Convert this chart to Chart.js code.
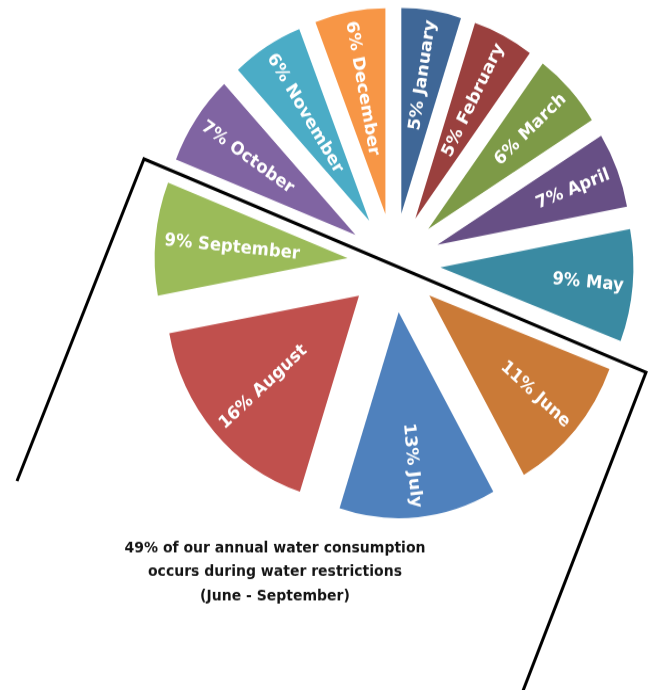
<!DOCTYPE html>
<html>
<head>
<meta charset="utf-8">
<script src="https://cdn.jsdelivr.net/npm/chart.js@4/dist/chart.umd.min.js"></script>
<style>
  html, body { margin: 0; padding: 0; background: #ffffff; overflow: hidden; }
  #wrap { position: absolute; left: 0; top: 0; width: 656px; height: 647px;
          transform: scaleY(1.06646); transform-origin: 0 0; }
</style>
</head>
<body>
<div id="wrap"><canvas id="chart"></canvas></div>
<script>
// ---- data ----
const months = ['January', 'February', 'March', 'April', 'May', 'June',
                'July', 'August', 'September', 'October', 'November', 'December'];
// slice sizes as drawn in the picture (share of annual consumption, %)
const sliceShares = [5.0, 5.1, 6.0, 5.9, 8.8, 11.0, 13.1, 17.1, 8.9, 7.1, 6.0, 5.9];
// percentages as printed on the slice labels
const labelPercents = [5, 5, 6, 7, 9, 11, 13, 16, 9, 7, 6, 6];
const noteLines = ['49% of our annual water consumption',
                   'occurs during water restrictions',
                   '(June - September)'];

// ---- styles ----
const sliceColors = ['#3F6797', '#9A403E', '#7D9A47', '#674F85', '#3A8AA2', '#CA7A37',
                     '#4F81BD', '#C0504D', '#9BBB59', '#8064A2', '#4BACC6', '#F79646'];
const PIE_RADIUS = 193;
const EXPLODE = 46.6;
const LABEL_MARGIN = 9;
const frameLine = [[17, 451], [144, 149], [646, 349], [520, 655]];

const explodePlugin = {
  id: 'explode',
  afterDatasetsUpdate(chart) {
    chart.getDatasetMeta(0).data.forEach(el => {
      const mid = (el.startAngle + el.endAngle) / 2;
      el.x += EXPLODE * Math.cos(mid);
      el.y += EXPLODE * Math.sin(mid);
    });
  }
};

const labelPlugin = {
  id: 'sliceLabels',
  afterDatasetsDraw(chart) {
    const ctx = chart.ctx;
    ctx.save();
    ctx.font = 'bold 16.5px "DejaVu Sans"';
    ctx.fillStyle = '#ffffff';
    ctx.textAlign = 'center';
    ctx.textBaseline = 'middle';
    chart.getDatasetMeta(0).data.forEach((el, i) => {
      const mid = (el.startAngle + el.endAngle) / 2;
      const txt = labelPercents[i] + '% ' + months[i];
      const w = ctx.measureText(txt).width;
      const dist = el.outerRadius - LABEL_MARGIN - w / 2;
      const x = el.x + dist * Math.cos(mid);
      const y = el.y + dist * Math.sin(mid);
      let rot = mid;
      if (Math.cos(mid) < 0) rot += Math.PI;
      ctx.save();
      ctx.translate(x, y);
      ctx.rotate(rot);
      ctx.fillText(txt, 0, 1);
      ctx.restore();
    });
    ctx.restore();
  },
  afterDraw(chart) {
    const ctx = chart.ctx;
    ctx.save();
    ctx.strokeStyle = '#000000';
    ctx.lineWidth = 3;
    ctx.lineJoin = 'miter';
    ctx.beginPath();
    frameLine.forEach((p, i) => i ? ctx.lineTo(p[0], p[1]) : ctx.moveTo(p[0], p[1]));
    ctx.stroke();
    ctx.font = 'bold 14px "DejaVu Sans"';
    ctx.fillStyle = '#141414';
    ctx.textAlign = 'center';
    ctx.textBaseline = 'middle';
    noteLines.forEach((t, i) => ctx.fillText(t, 275, 514 + i * 22.5));
    ctx.restore();
  }
};

new Chart(document.getElementById('chart'), {
  type: 'pie',
  data: {
    labels: months,
    datasets: [{
      data: sliceShares,
      backgroundColor: sliceColors,
      borderWidth: 0
    }]
  },
  options: {
    responsive: true,
    maintainAspectRatio: false,
    animation: false,
    events: [],
    radius: PIE_RADIUS,
    rotation: 0,
    layout: { padding: { left: 132, right: 0, top: 0, bottom: 154 } },
    plugins: {
      legend: { display: false },
      tooltip: { enabled: false },
      title: { display: false }
    }
  },
  plugins: [explodePlugin, labelPlugin]
});
</script>
</body>
</html>
